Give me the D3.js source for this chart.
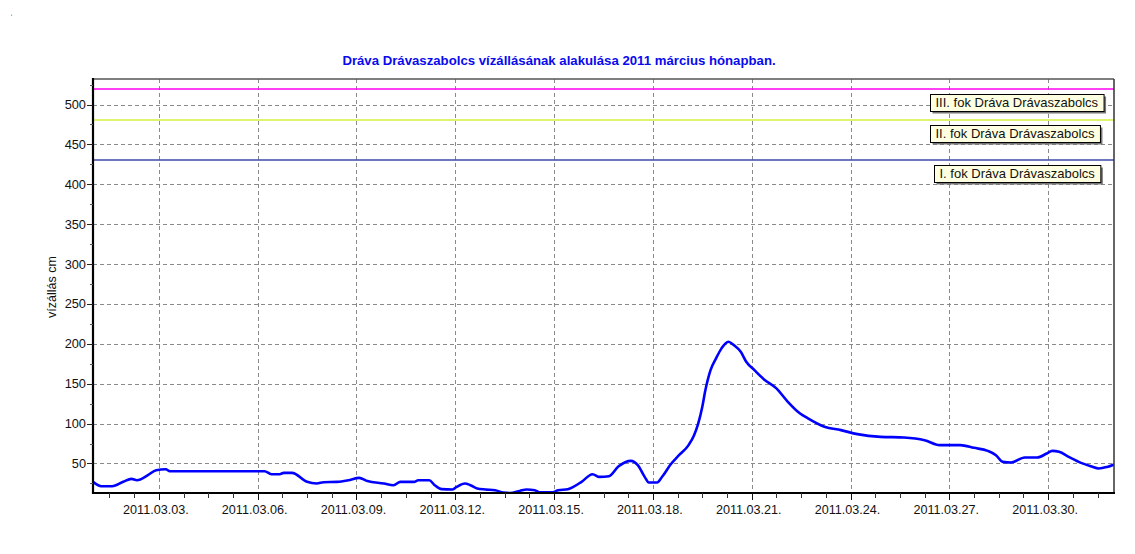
<!DOCTYPE html>
<html><head><meta charset="utf-8">
<script src="https://cdn.jsdelivr.net/npm/d3@7/dist/d3.min.js"></script>
<style>
html,body{margin:0;padding:0;background:#fff;}
svg{display:block;font-family:"Liberation Sans",Arial,sans-serif;}
</style></head>
<body>
<svg id="chart" width="1135" height="554"></svg>
<script>
// ---- data ----
const title = "Dráva Drávaszabolcs vízállásának alakulása 2011 március hónapban.";
const yLabel = "vízállás cm";
const times = [
"2011-03-01 00:00","2011-03-01 06:00","2011-03-01 14:00","2011-03-01 22:00","2011-03-02 04:00",
"2011-03-02 08:00","2011-03-02 16:00","2011-03-02 22:00","2011-03-03 05:00","2011-03-03 08:00",
"2011-03-06 05:00","2011-03-06 10:00","2011-03-06 16:00","2011-03-06 19:00","2011-03-07 01:00",
"2011-03-07 12:00","2011-03-07 19:00","2011-03-08 00:00","2011-03-08 10:00","2011-03-08 18:00",
"2011-03-09 02:00","2011-03-09 08:00","2011-03-09 20:00","2011-03-10 03:00","2011-03-10 08:00",
"2011-03-10 18:00","2011-03-10 21:00","2011-03-11 05:00","2011-03-11 09:00","2011-03-11 14:00",
"2011-03-11 22:00","2011-03-12 01:00","2011-03-12 07:00","2011-03-12 11:00","2011-03-12 16:00",
"2011-03-12 22:00","2011-03-13 05:00","2011-03-13 11:00","2011-03-13 16:00","2011-03-13 23:00",
"2011-03-14 04:00","2011-03-14 10:00","2011-03-14 13:00","2011-03-14 23:00","2011-03-15 03:00",
"2011-03-15 10:00","2011-03-15 14:00","2011-03-15 20:00","2011-03-16 04:00","2011-03-16 09:00",
"2011-03-16 16:00","2011-03-16 23:00","2011-03-17 08:00","2011-03-17 13:00","2011-03-17 18:00",
"2011-03-17 21:00","2011-03-18 03:00","2011-03-18 07:00","2011-03-18 13:00","2011-03-18 19:00",
"2011-03-19 02:00","2011-03-19 06:00","2011-03-19 09:00","2011-03-19 12:00","2011-03-19 14:00",
"2011-03-19 18:00","2011-03-19 22:00","2011-03-20 02:00","2011-03-20 07:00","2011-03-20 11:00",
"2011-03-20 16:00","2011-03-20 20:00","2011-03-21 02:00","2011-03-21 09:00","2011-03-21 18:00",
"2011-03-22 02:00","2011-03-22 11:00","2011-03-22 17:00","2011-03-23 05:00","2011-03-23 17:00",
"2011-03-24 05:00","2011-03-24 22:00","2011-03-25 15:00","2011-03-26 06:00","2011-03-26 17:00",
"2011-03-27 08:00","2011-03-27 18:00","2011-03-28 04:00","2011-03-28 10:00","2011-03-28 15:00",
"2011-03-28 21:00","2011-03-29 07:00","2011-03-29 16:00","2011-03-29 23:00","2011-03-30 03:00",
"2011-03-30 08:00","2011-03-30 15:00","2011-03-31 00:00","2011-03-31 07:00","2011-03-31 13:00",
"2011-03-31 19:00","2011-04-01 00:00"];
const levels = [
27,21.5,21.5,27,30.7,
29,35.3,41.6,42.8,40.3,
40.3,36.6,36.6,38.2,38.2,
27,25,26.5,27,29,
32,28,25,22.8,27,
27,29,29,22.8,17.8,
17.4,20.6,25,22.8,18.6,
17.4,16.5,13.6,13,15.6,
17.4,16.5,14,14,16.5,
17.8,20.6,27,36.6,33.2,
34,46.5,53.3,47.9,33.2,
26.2,26.2,34,49,60.4,
73,85.5,100,121,139.8,
167,181.7,194.3,202.6,198.4,
190,177.5,167,155.4,144.1,
128,113,106.5,96,91.8,
86.8,83.4,82.6,79.2,73,
73,69.6,65.8,60.4,52,
51.3,57.5,57.5,62.5,65.8,
64.6,58.3,50.8,46.6,43.7,
45.7,48.7];
const thresholdNames = ["III. fok Dráva Drávaszabolcs","II. fok Dráva Drávaszabolcs","I. fok Dráva Drávaszabolcs"];
const thresholdValues = [520, 480, 430];
const thresholdColors = ["#ff00f0","#d4f03c","#3c4aa8"];
const xTickDates = ["2011-03-03","2011-03-06","2011-03-09","2011-03-12","2011-03-15","2011-03-18","2011-03-21","2011-03-24","2011-03-27","2011-03-30"];
const yTicks = [50,100,150,200,250,300,350,400,450,500];
const xDomain = ["2011-03-01 00:00","2011-04-01 00:00"];
const yDomain = [13, 532];

// ---- layout ----
const L = 93, R = 1114, T = 79, B = 493;
const parseT = d3.timeParse("%Y-%m-%d %H:%M");
const parseD = d3.timeParse("%Y-%m-%d");
const fmt = d3.timeFormat("%Y.%m.%d.");
const svg = d3.select("#chart");

const x = d3.scaleTime().domain(xDomain.map(parseT)).range([L, R]);
const y = d3.scaleLinear().domain(yDomain).range([B, T]);
const data = times.map((t,i)=>({t:parseT(t), v:levels[i]}));

// tiny mark top-left
svg.append("text").attr("x",10).attr("y",14).attr("font-size",9).attr("fill","#333").text("ˌ");

// title
svg.append("text").attr("x",559).attr("y",65).attr("text-anchor","middle")
  .attr("font-size",13.2).attr("font-weight","bold").attr("fill","#0a0aee").text(title);

const gridColor = "#8a8a8a", dash = "4,3";
const majorX = xTickDates.map(parseD);

// grid
const grid = svg.append("g");
grid.selectAll("line.gy").data(yTicks).join("line")
  .attr("x1",L).attr("x2",R).attr("y1",d=>Math.round(y(d))+0.5).attr("y2",d=>Math.round(y(d))+0.5)
  .attr("stroke",gridColor).attr("stroke-dasharray",dash);
grid.selectAll("line.gx").data(majorX).join("line")
  .attr("y1",T).attr("y2",B).attr("x1",d=>Math.round(x(d))+0.5).attr("x2",d=>Math.round(x(d))+0.5)
  .attr("stroke",gridColor).attr("stroke-dasharray",dash);

// threshold lines
svg.selectAll("line.th").data(thresholdValues).join("line")
  .attr("x1",L).attr("x2",R).attr("y1",d=>Math.round(y(d))).attr("y2",d=>Math.round(y(d)))
  .attr("stroke",(d,i)=>thresholdColors[i]).attr("stroke-width",1.4);

// data line
svg.append("defs").append("clipPath").attr("id","clip").append("rect")
  .attr("x",L).attr("y",T).attr("width",R-L).attr("height",B-T);
svg.append("path").datum(data).attr("clip-path","url(#clip)")
  .attr("fill","none").attr("stroke","#0000ff").attr("stroke-width",2.6)
  .attr("stroke-linejoin","round")
  .attr("d", d3.line().curve(d3.curveMonotoneX).x(d=>x(d.t)).y(d=>y(d.v)));

// borders
svg.append("line").attr("x1",L).attr("x2",R).attr("y1",T).attr("y2",T).attr("stroke","#555").attr("stroke-width",1.5);
svg.append("line").attr("x1",R).attr("x2",R).attr("y1",T).attr("y2",B).attr("stroke","#333").attr("stroke-width",1.5);

// y axis
const yAxis = svg.append("g");
yAxis.append("line").attr("x1",L).attr("x2",L).attr("y1",T-1).attr("y2",B+1).attr("stroke","#000").attr("stroke-width",2.2);
yAxis.selectAll("line.t").data(yTicks).join("line")
  .attr("x1",L-6).attr("x2",L).attr("y1",d=>Math.round(y(d))+0.5).attr("y2",d=>Math.round(y(d))+0.5).attr("stroke","#222");
const yMinor = d3.range(25, 532, 50);
yAxis.selectAll("line.m").data(yMinor).join("line")
  .attr("x1",L-3).attr("x2",L).attr("y1",d=>Math.round(y(d))+0.5).attr("y2",d=>Math.round(y(d))+0.5).attr("stroke","#555");
yAxis.selectAll("text").data(yTicks).join("text")
  .attr("x",L-7).attr("y",d=>y(d)+4.5).attr("text-anchor","end").attr("font-size",12.8).attr("fill","#111").text(d=>d);
svg.append("text").attr("transform","translate(56,287) rotate(-90)").attr("text-anchor","middle")
  .attr("font-size",12.5).attr("fill","#111").text(yLabel);

// x axis
const xAxis = svg.append("g");
xAxis.append("line").attr("x1",L-1).attr("x2",R+1).attr("y1",B).attr("y2",B).attr("stroke","#000").attr("stroke-width",2.2);
const minorStep = 18*3600*1000;
const base = majorX[0].getTime();
const minorX = d3.range(-2, 60).map(k=>new Date(base + k*minorStep)).filter(d=>x(d)>L+2 && x(d)<R-2);
xAxis.selectAll("line.m").data(minorX).join("line")
  .attr("x1",d=>Math.round(x(d))+0.5).attr("x2",d=>Math.round(x(d))+0.5).attr("y1",B).attr("y2",B+5).attr("stroke","#333");
xAxis.selectAll("line.t").data(majorX).join("line")
  .attr("x1",d=>Math.round(x(d))+0.5).attr("x2",d=>Math.round(x(d))+0.5).attr("y1",B).attr("y2",B+7).attr("stroke","#111");
xAxis.selectAll("text").data(majorX).join("text")
  .attr("x",d=>x(d)-3).attr("y",B+21).attr("text-anchor","middle").attr("font-size",12.6).attr("fill","#111").text(d=>fmt(d));

// threshold labels
const boxLeft = [930, 930, 934];
const labels = svg.append("g");
thresholdValues.forEach((v,i)=>{
  const g = labels.append("g");
  const t = g.append("text").attr("font-size",13).attr("fill","#111").text(thresholdNames[i]);
  const w = t.node().getComputedTextLength();
  const top = Math.round(y(v)) + 5;
  const bw = w + 11, bh = 17;
  g.insert("rect","text").attr("x",boxLeft[i]+2.5).attr("y",top+2.5).attr("width",bw).attr("height",bh).attr("fill","#777");
  g.insert("rect","text").attr("x",boxLeft[i]+0.5).attr("y",top+0.5).attr("width",bw).attr("height",bh)
    .attr("fill","#ffffe1").attr("stroke","#000");
  t.attr("x",boxLeft[i]+5.5).attr("y",top+13);
});
</script>
</body></html>
